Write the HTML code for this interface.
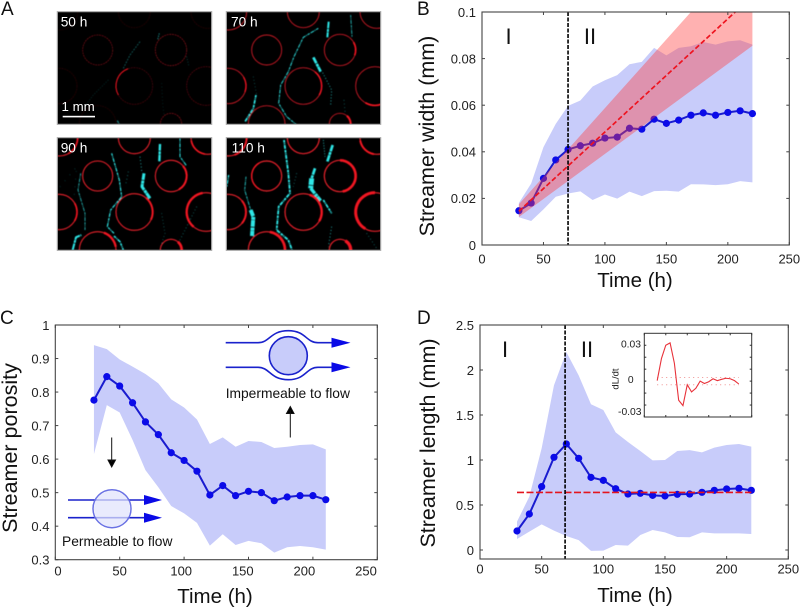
<!DOCTYPE html>
<html lang="en">
<head>
<meta charset="utf-8">
<title>Streamer growth figure</title>
<style>
html,body{margin:0;padding:0;background:#fff;}
svg{display:block;font-family:"Liberation Sans",Arial,sans-serif;}
</style>
</head>
<body>
<svg id="fig" xmlns="http://www.w3.org/2000/svg" width="800" height="609" viewBox="0 0 800 609">
<defs>
<clipPath id="clipB"><rect x="482" y="12" width="307.3" height="233"/></clipPath>
<clipPath id="clipImg1"><rect x="52" y="35" width="463" height="338"/></clipPath>
<clipPath id="clipImg2"><rect x="559" y="35" width="463" height="338"/></clipPath>
<clipPath id="clipImg3"><rect x="52" y="413" width="463" height="338"/></clipPath>
<clipPath id="clipImg4"><rect x="559" y="413" width="463" height="338"/></clipPath>
<filter id="soft" x="-5%" y="-5%" width="110%" height="110%"><feGaussianBlur stdDeviation="1.3"/></filter>
</defs>
</svg>
<script>
// ---------- Panel B data ----------
const timeB = [30,40,50,60,70,80,90,100,110,120,130,140,150,160,170,180,190,200,210,220];
const widthMean = [.0147,.018,.0286,.0365,.041,.0426,.0437,.0459,.0463,.0501,.0497,.054,.0522,.0536,.0557,.0567,.0557,.0569,.0576,.0564];
const widthUpper = [.018,.0264,.042,.052,.0597,.062,.068,.0707,.0729,.0776,.0786,.0846,.0814,.0846,.0853,.0871,.086,.0874,.0879,.086];
const widthLower = [.0119,.0103,.0153,.0207,.0221,.023,.0193,.0217,.0199,.0229,.021,.0231,.0233,.0229,.0261,.026,.0257,.0261,.0274,.0269];
const fitTimeB = [30,220];
const fitWidth = [.0145,.1068];
const fitWidthUpper = [.0175,.1295];
const fitWidthLower = [.012,.0855];
const transitionB = 70;
const xTicks = [0,50,100,150,200,250];
const yTicksB = [0,.02,.04,.06,.08,.1];
const yTickLabelsB = ['0','0.02','0.04','0.06','0.08','0.1'];

// ---------- Panel C data ----------
const timeC = [30,40,50,60,70,80,90,100,110,120,130,140,150,160,170,180,190,200,210];
const porosityMean = [.776,.846,.818,.768,.711,.673,.619,.596,.564,.493,.521,.491,.504,.5,.476,.487,.491,.491,.479];
const porosityUpper = [.94,.928,.897,.876,.854,.826,.778,.754,.718,.645,.665,.637,.654,.651,.633,.637,.642,.644,.629];
const porosityLower = [.615,.761,.739,.657,.567,.516,.46,.438,.41,.342,.376,.344,.356,.349,.321,.337,.341,.337,.33];
const yTicksC = [.3,.4,.5,.6,.7,.8,.9,1];
const yTickLabelsC = ['0.3','0.4','0.5','0.6','0.7','0.8','0.9','1'];

// ---------- Panel D data ----------
const timeD = [30,40,50,60,70,80,90,100,110,120,130,140,150,160,170,180,190,200,210,220];
const lengthMean = [.211,.4,.704,1.03,1.178,1.019,.807,.774,.681,.622,.63,.607,.6,.619,.622,.641,.663,.678,.685,.663];
const lengthUpper = [.315,.593,1.13,1.83,2.2,1.94,1.62,1.556,1.307,1.2,1.1,.996,1.0,1.1,1.11,1.085,1.137,1.167,1.178,1.148];
const lengthLower = [.122,.204,.285,.215,.156,.11,-.01,-.007,.056,.048,.167,.222,.196,.144,.141,.196,.185,.185,.185,.178];
const fitTimeD = [30,220];
const fitLength = [.64,.64];
const transitionD = 69;
const yTicksD = [0,.5,1,1.5,2,2.5];
const yTickLabelsD = ['0','0.5','1','1.5','2','2.5'];

// ---------- Panel D inset data ----------
const insetTime = [30,40,50,60,70,80,90,100,110,120,130,140,150,160,170,180,190,200,210,220];
const insetRate = [.0004,.019,.030,.032,.015,-.016,-.0205,-.003,-.009,-.006,0,-.002,-.0005,.002,.0004,.0015,.0024,.002,.0004,-.0024];
const insetThreshold = [.003,-.003];
const insetYTicks = [-.03,-.02,-.01,0,.01,.02,.03];
const insetXTicks = [0,50,100,150,200,250];

// ---------- helpers ----------
const svg = document.getElementById('fig');
const NS = 'http://www.w3.org/2000/svg';
function mk(tag, attrs, parent){
  const el = document.createElementNS(NS, tag);
  for (const k in attrs) el.setAttribute(k, attrs[k]);
  (parent || svg).appendChild(el);
  return el;
}
function scale(d0,d1,r0,r1){ return v => r0 + (v-d0)/(d1-d0)*(r1-r0); }
const BLUE_LINE = '#1a1ccf', BLUE_DOT = '#0b0be8', BAND = '#c8ccfa', AXIS = '#444', TICKTXT = '#222';

function txt(parent, str, x, y, size, anchor, fill, rotate){
  const t = mk('text', {x:x, y:y, 'font-size':size, 'text-anchor':anchor||'start', fill:fill||'#111'}, parent);
  if (rotate) t.setAttribute('transform', 'rotate(-90 '+x+' '+y+')');
  t.textContent = str;
  return t;
}
function linePath(xs, ys, X, Y){
  return xs.map((v,i)=>(i?'L':'M')+X(v).toFixed(2)+' '+Y(ys[i]).toFixed(2)).join(' ');
}
function bandPath(xs, up, lo, X, Y){
  const a = xs.map((v,i)=>X(v).toFixed(2)+','+Y(up[i]).toFixed(2));
  const b = xs.map((v,i)=>X(v).toFixed(2)+','+Y(lo[i]).toFixed(2)).reverse();
  return a.concat(b).join(' ');
}
function drawBand(group, prefix, xs, up, lo, X, Y, fill, opacity){
  const p = mk('polygon', {points:bandPath(xs,up,lo,X,Y), fill:fill, 'fill-opacity':opacity}, group);
  
  
  return p;
}
function drawSeries(group, prefix, xs, ys, X, Y){
  const l = mk('path', {d:linePath(xs,ys,X,Y), fill:'none', stroke:BLUE_LINE, 'stroke-width':2}, group);
  
  
  xs.forEach((v,i)=>{
    const c = mk('circle', {cx:X(v), cy:Y(ys[i]), r:3.6, fill:BLUE_DOT}, group);
    
    
  });
}
function drawFrame(group, prefix, L, T, R, B, xs, ys, X, Y, tl, sw, color){
  const r = mk('rect', {x:L, y:T, width:R-L, height:B-T, fill:'none', stroke:color||AXIS, 'stroke-width':sw||1.1}, group);
  
  
  const tg = mk('g', {stroke:color||AXIS, 'stroke-width':1}, group);
  
  
  xs.forEach(v=>{
    mk('line',{x1:X(v),x2:X(v),y1:B,y2:B-tl},tg);
    mk('line',{x1:X(v),x2:X(v),y1:T,y2:T+tl},tg);
  });
  ys.forEach(v=>{
    mk('line',{x1:L,x2:L+tl,y1:Y(v),y2:Y(v)},tg);
    mk('line',{x1:R,x2:R-tl,y1:Y(v),y2:Y(v)},tg);
  });
}
function drawXLabels(group, prefix, ticks, labelX, y){
  ticks.forEach(v=>{
    const t = txt(group, String(v), labelX(v), y, 13, 'middle', TICKTXT);
    
    
  });
}
function drawYLabels(group, prefix, ticks, labels, Y, x){
  ticks.forEach((v,i)=>{
    const t = txt(group, labels[i], x, Y(v)+4.8, 13, 'end', TICKTXT);
    
    
  });
}

// ---------- Panel A: micrographs ----------
(function(){
  const circles = [[121,115,45],[341,115,47],[231,223,55],[6,223,53],[446,223,58],[341,337,32],[121,337,55],[231,0,48],[6,0,55],[451,0,50]];
  const frames = [
    {n:'50-h', lab:'50 h', ox:52, oy:35, clip:'clipImg1', lx:60.7, ly:26.7, w:1.8,
     ops:[.6,.7,.38,.22,.45,.7,.2,.2,.15,.2], dash:'6 2',
     arcs:[[2,150,250,3]],
     streaks:[
      [2.5,.7,'4 3','M358 100 L353 118'],
      [2,.55,'5 4','M300 125 L270 165 L250 205'],
      [1.6,.32,'3 5','M205 240 L160 285 L130 325'],
      [1.6,.35,'2 8','M365 250 L368 310 L372 345'],
      [3,.7,'', 'M232 362 L238 373'],
      [2,.5,'2 6','M440 170 L447 200']
     ]},
    {n:'70-h', lab:'70 h', ox:559, oy:35, clip:'clipImg2', lx:231, ly:26.7, w:2.8,
     ops:[.85,.85,.85,.85,.85,.85,.85,.85,.85,.85],
     arcs:[[2,-50,30,4.5],[1,-30,20,5],[5,-50,20,6],[4,70,120,5],[3,-30,20,4]],
     streaks:[
      [3,.95,'', 'M835 85 L790 112 L762 170 L745 215 L722 255 L716 310 L740 350 L768 373'],
      [6,1,'', 'M866 65 L862 112'],
      [8,1,'', 'M820 172 L842 215'],
      [5,1,'', 'M648 285 L640 325 L615 365'],
      [2.5,.85,'', 'M932 45 L936 110'],
      [2.5,.8,'3 6','M848 218 L875 270 L872 315'],
      [2,.6,'2 8','M640 230 L650 285'],
      [2.5,.6,'2 9','M912 300 L915 335']
     ]},
    {n:'90-h', lab:'90 h', ox:52, oy:413, clip:'clipImg3', lx:60.7, ly:152.7, w:3.2,
     ops:[1,1,1,1,1,1,1,1,1,1],
     arcs:[[2,-50,25,6],[1,-40,60,6],[4,130,260,7],[5,-50,30,8],[6,-70,-10,7],[3,-30,30,5],[8,0,60,5],[9,100,170,5]],
     streaks:[
      [3.5,1,'', 'M215 460 L238 540 L245 590 L212 630 L202 680 L222 700'],
      [2.6,.8,'', 'M122 520 L114 570 L135 640 L135 690'],
      [9,1,'', 'M312 520 L306 560 L330 595'],
      [7,1,'', 'M360 432 L358 485'],
      [3,1,'', 'M420 415 L420 470 L440 498'],
      [6,1,'', 'M98 750 L108 712 L124 705'],
      [4.5,1,'', 'M222 708 L240 725 L250 750'],
      [2.5,.8,'3 7','M300 470 L306 520'],
      [2,.65,'2 8','M365 640 L375 700 L360 745'],
      [2.5,.7,'2 9','M265 515 L258 550'],
      [2.5,.65,'2 8','M470 620 L420 720'],
      [3,.6,'1 22','M60 560 L110 500 L100 620']
     ]},
    {n:'110-h', lab:'110 h', ox:559, oy:413, clip:'clipImg4', lx:575/3+40, ly:152.7, w:3.6,
     ops:[1,1,1,1,1,1,1,1,1,1],
     arcs:[[2,-70,30,7],[1,-90,80,8],[4,120,270,9],[5,-60,40,10],[6,-80,0,8],[3,-40,40,6],[8,0,70,6],[9,100,170,6],[0,120,240,4]],
     streaks:[
      [5.5,1,'', 'M732 420 L745 520 L750 580 L716 620 L710 690 L745 720 L756 750'],
      [12,1,'', 'M632 630 L640 650 L636 708'],
      [2.8,.85,'', 'M618 530 L614 570 L632 630'],
      [8,1,'', 'M825 505 L815 535'],
      [15,1,'', 'M815 535 L812 565'],
      [10,1,'', 'M812 565 L842 602'],
      [8,1,'', 'M878 435 L862 485'],
      [5,1,'', 'M850 600 L875 640'],
      [4,1,'', 'M566 525 L560 560'],
      [2.5,.85,'3 5','M850 420 L855 470'],
      [2.5,.8,'3 7','M875 680 L865 740'],
      [2.5,.65,'2 8','M980 700 L1010 745'],
      [2.5,.65,'2 8','M770 520 L760 560']
     ]}
  ];
  const panel = mk('g', {transform:'translate(40 0) scale(0.33333)'});
  
  
  frames.forEach(f=>{
    const g = mk('g', {'clip-path':'url(#'+f.clip+')'}, panel);
    
    
    mk('rect', {x:f.ox, y:f.oy, width:463, height:338, fill:'#000'}, g);
    const inner = mk('g', {filter:'url(#soft)'}, g);
    f.streaks.forEach(s=>{
      const dash = s[2] || (s[0]>=6 ? '20 2 9 1' : '8 2 3 2 12 3');
      mk('path', {d:s[3], fill:'none', stroke:'#2fe6e6', 'stroke-width':s[0], 'stroke-opacity':s[1], 'stroke-linejoin':'round', 'stroke-dasharray':dash}, inner);
    });
    circles.forEach((c,i)=>{
      const ring = mk('circle', {cx:f.ox+c[0], cy:f.oy+c[1], r:c[2], fill:'none', stroke:'#e8202c', 'stroke-width':f.w, 'stroke-opacity':f.ops[i]}, inner);
      if (f.dash) ring.setAttribute('stroke-dasharray', f.dash);
    });
    f.arcs.forEach(a=>{
      const c = circles[a[0]], cx=f.ox+c[0], cy=f.oy+c[1], r=c[2];
      const t0=a[1]*Math.PI/180, t1=a[2]*Math.PI/180;
      const large = (a[2]-a[1])>180?1:0;
      mk('path', {d:'M'+(cx+r*Math.cos(t0))+' '+(cy+r*Math.sin(t0))+' A'+r+' '+r+' 0 '+large+' 1 '+(cx+r*Math.cos(t1))+' '+(cy+r*Math.sin(t1)), fill:'none', stroke:'#f01420', 'stroke-width':a[3]}, inner);
    });
    const b = mk('rect', {x:f.ox, y:f.oy, width:463, height:338, fill:'none', stroke:'#aaa', 'stroke-width':3.5}, panel);
    
    
    const t = txt(svg, f.lab, f.lx, f.ly, 13.7, 'start', '#fff');
    
    
  });
  const sb = mk('rect', {x:62.7, y:115.8, width:32.3, height:1.6, fill:'#fff'});
  
  
  const sl = txt(svg, '1 mm', 61.5, 111, 13.3, 'start', '#fff');
  
  
  const pa = txt(svg, 'A', 1, 15, 19);
  
  
})();

// ---------- Panel B ----------
(function(){
  const L=482,R=789.3,T=12,B=245;
  const X=scale(0,250,L,R), Y=scale(0,.1,B,T);
  const g = mk('g');
  
  
  drawBand(g,'width-deviation',timeB,widthUpper,widthLower,X,Y,BAND,1);
  drawSeries(g,'width-mean',timeB,widthMean,X,Y);
  const clip = mk('g', {'clip-path':'url(#clipB)'}, g);
  
  
  drawBand(clip,'width-fit',fitTimeB,fitWidthUpper,fitWidthLower,X,Y,'#ff3c3c',.4);
  const f = mk('path', {d:linePath(fitTimeB,fitWidth,X,Y), fill:'none', stroke:'#ee1420', 'stroke-width':1.7, 'stroke-dasharray':'5 2.5'}, clip);
  
  
  const v = mk('line', {x1:X(transitionB), x2:X(transitionB), y1:T, y2:B, stroke:'#000', 'stroke-width':1.6, 'stroke-dasharray':'4 1.5'}, g);
  
  
  drawFrame(g,'panel-b',L,T,R,B,xTicks,yTicksB,X,Y,3);
  drawXLabels(g,'panel-b',xTicks,X,263.5);
  drawYLabels(g,'panel-b',yTicksB,yTickLabelsB,Y,476);
  const xt = txt(g,'Time (h)',635,287,20.5,'middle');
  
  
  const yt = txt(g,'Streamer width (mm)',434,136,21.5,'middle','#111',true);
  
  
  const r1 = txt(g,'I',508.5,44,22,'middle');
  
  
  const r2 = txt(g,'II',590,44,22,'middle');
  
  
  const pl = txt(g,'B',417,15,19);
  
  
})();

// ---------- Panel C ----------
(function(){
  const L=55.3,R=377.3,T=325,B=559.7;
  const X=scale(0,250,L,R), Y=scale(.3,1,B,T);
  const g = mk('g');
  
  
  drawBand(g,'porosity-deviation',timeC,porosityUpper,porosityLower,X,Y,BAND,1);
  drawSeries(g,'porosity-mean',timeC,porosityMean,X,Y);
  drawFrame(g,'panel-c',L,T,R,B,xTicks,yTicksC,X,Y,3);
  const labelX = v => 58 + v*1.232;
  drawXLabels(g,'panel-c',xTicks,labelX,575.5);
  drawYLabels(g,'panel-c',yTicksC,yTickLabelsC,Y,49.5);
  const xt = txt(g,'Time (h)',215,603,20.5,'middle');
  
  
  const yt = txt(g,'Streamer porosity',17,448,21.5,'middle','#111',true);
  
  
  const pl = txt(g,'C',0,324,19);
  
  

  // impermeable diagram
  const imp = mk('g', {fill:'none', stroke:'#1a22cc', 'stroke-width':1.6}, g);
  
  
  mk('circle', {cx:288.3, cy:355.7, r:19, fill:BAND}, imp);
  mk('path', {d:'M225.7 342.7 L258 342.7 C270 342.7 270 330.7 288.3 330.7 C306 330.7 306 342.7 318 342.7 L335 342.7'}, imp);
  mk('path', {d:'M225.7 367.3 L258 367.3 C270 367.3 270 379.7 288.3 379.7 C306 379.7 306 367.3 318 367.3 L335 367.3'}, imp);
  mk('polygon', {points:'331.5,337.7 350.5,342.7 331.5,347.7', fill:'#0a0ae6', stroke:'none'}, imp);
  mk('polygon', {points:'331.5,362.3 350.5,367.3 331.5,372.3', fill:'#0a0ae6', stroke:'none'}, imp);
  const it = txt(g,'Impermeable to flow',225.7,398,13.8);
  
  
  const ua = mk('path', {d:'M290.3 437.5 L290.3 410 M286.5 413.5 L290.3 406.5 L294 413.5 Z', stroke:'#111', 'stroke-width':1, fill:'#000'}, g);
  
  

  // permeable diagram
  const per = mk('g', {}, g);
  
  
  mk('line', {x1:68, x2:147, y1:500, y2:500, stroke:'#1a22cc', 'stroke-width':1.6}, per);
  mk('line', {x1:68, x2:147, y1:517.7, y2:517.7, stroke:'#1a22cc', 'stroke-width':1.6}, per);
  mk('polygon', {points:'144,495 162,500 144,505', fill:'#0a0ae6'}, per);
  mk('polygon', {points:'144,512.7 162,517.7 144,522.7', fill:'#0a0ae6'}, per);
  mk('circle', {cx:112, cy:508.7, r:19, fill:'#ffffff', 'fill-opacity':.55, stroke:'#6a72e4', 'stroke-width':1.5}, per);
  mk('circle', {cx:112, cy:508.7, r:18, fill:'#c8ccfa', 'fill-opacity':.4}, per);
  const pt = txt(g,'Permeable to flow',62,546,13.8);
  
  
  const da = mk('path', {d:'M111.7 437.5 L111.7 462 M108 460 L111.7 467 L115.5 460 Z', stroke:'#111', 'stroke-width':1, fill:'#000'}, g);
  
  
})();

// ---------- Panel D ----------
(function(){
  const L=480,R=788.3,T=325,B=559;
  const X=scale(0,250,L,R), Y=scale(-.1,2.5,B,T);
  const g = mk('g');
  
  
  drawBand(g,'length-deviation',timeD,lengthUpper,lengthLower,X,Y,BAND,1);
  drawSeries(g,'length-mean',timeD,lengthMean,X,Y);
  const f = mk('path', {d:linePath(fitTimeD,fitLength,X,Y), fill:'none', stroke:'#e4141e', 'stroke-width':1.6, 'stroke-dasharray':'7 2.5'}, g);
  
  
  const v = mk('line', {x1:X(transitionD), x2:X(transitionD), y1:T, y2:B, stroke:'#000', 'stroke-width':1.6, 'stroke-dasharray':'4 1.5'}, g);
  
  
  drawFrame(g,'panel-d',L,T,R,B,xTicks,yTicksD,X,Y,3);
  drawXLabels(g,'panel-d',xTicks,X,573.5);
  drawYLabels(g,'panel-d',yTicksD,yTickLabelsD,Y,474);
  const xt = txt(g,'Time (h)',635,602,20.5,'middle');
  
  
  const yt = txt(g,'Streamer length (mm)',435,443,21.5,'middle','#111',true);
  
  
  const r1 = txt(g,'I',505,357,22,'middle');
  
  
  const r2 = txt(g,'II',587,357,22,'middle');
  
  
  const pl = txt(g,'D',417,324,19);
  
  

  // inset
  const iL=644.3,iR=751.7,iT=333.3,iB=417;
  const iX=scale(0,250,iL,iR), iY=scale(-.03,.04,iB,iT);
  const ig = mk('g', {}, g);
  
  
  insetThreshold.forEach(val=>{
    const d = mk('line', {x1:iX(insetTime[0]), x2:iX(insetTime[insetTime.length-1]), y1:iY(val), y2:iY(val), stroke:'#f09090', 'stroke-width':1, 'stroke-dasharray':'1 3.5'}, ig);
    
    
  });
  const il = mk('path', {d:linePath(insetTime,insetRate,iX,iY), fill:'none', stroke:'#e8323a', 'stroke-width':1.1}, ig);
  
  
  drawFrame(ig,'inset',iL,iT,iR,iB,insetXTicks,insetYTicks,iX,iY,2,1,'#333');
  const a = txt(ig,'0.03',641,347.7,10.3,'end',TICKTXT);
  
  
  const b = txt(ig,'0',630.7,383,10.3,'middle',TICKTXT);
  
  
  const c = txt(ig,'-0.03',641.5,415,10.3,'end',TICKTXT);
  
  
  const d = txt(ig,'dL/dt',618.5,379,9.5,'middle','#111',true);
  
  
})();
</script>
</body>
</html>
